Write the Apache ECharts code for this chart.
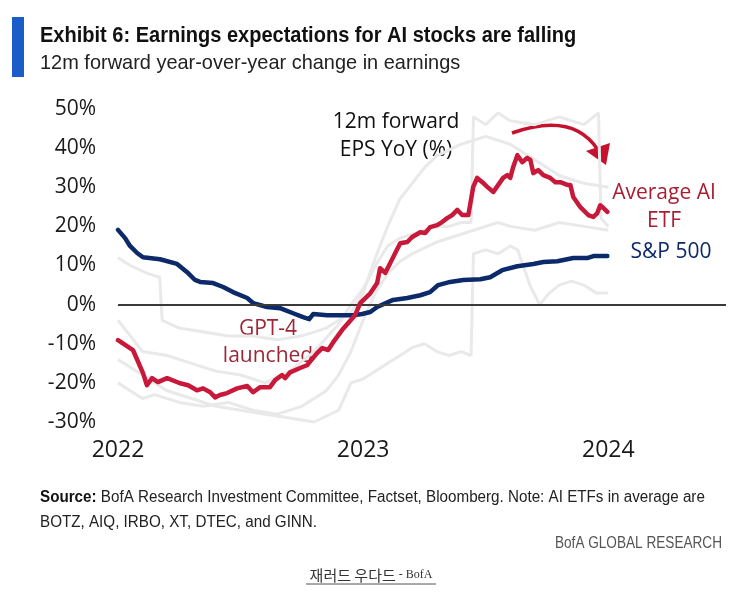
<!DOCTYPE html>
<html>
<head>
<meta charset="utf-8">
<script src="https://cdn.jsdelivr.net/npm/echarts@6/dist/echarts.min.js"></script>
<style>
html,body{margin:0;padding:0;background:#fff;}
#chart{width:744px;height:597px;}
</style>
</head>
<body>
<div id="chart"></div>
<script>
// ---- data (x = decimal year, y = % YoY) ----
const yearTicks = [2022, 2023, 2024];

const aiDates = [2022.000,2022.061,2022.102,2022.118,2022.139,2022.163,2022.200,2022.253,2022.286,2022.322,2022.347,2022.376,2022.396,2022.416,2022.445,2022.486,2022.527,2022.551,2022.580,2022.620,2022.641,2022.669,2022.682,2022.702,2022.743,2022.771,2022.812,2022.833,2022.857,2022.878,2022.914,2022.939,2022.967,2022.988,2023.029,2023.057,2023.069,2023.090,2023.110,2023.131,2023.151,2023.180,2023.200,2023.233,2023.253,2023.273,2023.302,2023.322,2023.343,2023.363,2023.384,2023.404,2023.429,2023.449,2023.465,2023.486,2023.506,2023.531,2023.551,2023.571,2023.588,2023.600,2023.612,2023.629,2023.649,2023.669,2023.682,2023.694,2023.714,2023.735,2023.763,2023.784,2023.804,2023.833,2023.845,2023.857,2023.886,2023.918,2023.939,2023.955,2023.967,2023.980,2023.996];
const aiValues = [-9.1,-11.6,-17.5,-20.6,-18.8,-19.8,-18.8,-20.1,-20.6,-21.9,-21.4,-22.4,-23.7,-23.1,-22.6,-21.4,-20.8,-22.4,-21.1,-21.1,-19.3,-18.0,-18.8,-17.3,-16.2,-15.5,-12.4,-11.1,-11.6,-9.6,-6.5,-4.7,-2.7,0.4,2.9,5.5,9.3,8.1,10.6,13.2,15.7,16.0,17.3,18.5,18.3,19.8,20.3,21.1,22.1,22.9,24.2,22.9,22.9,30.1,32.4,31.3,30.1,28.8,30.6,32.4,33.1,32.4,35.2,38.2,36.4,37.5,37.0,33.6,34.4,33.1,32.4,31.3,31.3,30.6,30.6,27.5,24.9,22.9,22.4,23.4,25.4,24.7,23.7];

const spxDates = [2022.000,2022.029,2022.049,2022.078,2022.102,2022.171,2022.241,2022.282,2022.314,2022.335,2022.388,2022.429,2022.469,2022.527,2022.551,2022.608,2022.661,2022.714,2022.755,2022.780,2022.796,2022.853,2022.906,2022.959,2022.996,2023.029,2023.057,2023.122,2023.180,2023.233,2023.273,2023.306,2023.355,2023.408,2023.478,2023.518,2023.567,2023.629,2023.694,2023.735,2023.792,2023.857,2023.914,2023.939,2023.996];
const spxValues = [19.1,17.0,15.0,13.2,12.1,11.6,10.4,8.3,6.3,5.8,5.5,4.5,3.2,1.7,0.4,-0.6,-0.9,-2.2,-3.2,-3.7,-2.4,-2.7,-2.7,-2.7,-2.4,-1.9,-0.6,1.2,1.7,2.4,3.2,5.0,5.8,6.3,6.5,7.0,8.8,9.8,10.4,10.9,11.1,11.9,11.9,12.4,12.4];

// individual AI ETFs (faded background lines)
const etf1Dates = [2022.00,2022.05,2022.10,2022.20,2022.30,2022.40,2022.50,2022.60,2022.70,2022.80,2022.90,2022.95,2023.00,2023.05,2023.10,2023.15,2023.20,2023.25,2023.30,2023.35,2023.40,2023.44,2023.45,2023.50,2023.55,2023.60,2023.70,2023.80,2023.90,2023.96,2023.97,2024.00];
const etf1Values = [-4,-8,-12,-13,-15,-17,-18,-20,-17,-12,-5,0,4,10,15,17,18,19,20,20,21,21,48,46,49,47,46,48,46,49,22,20];
const etf2Dates = [2022.00,2022.05,2022.12,2022.17,2022.18,2022.25,2022.35,2022.45,2022.55,2022.65,2022.75,2022.85,2022.95,2023.00,2023.05,2023.10,2023.15,2023.20,2023.25,2023.30,2023.40,2023.50,2023.60,2023.70,2023.80,2023.90,2024.00];
const etf2Values = [12,10,8,7,-4,-6,-7,-8,-8,-9,-8,-6,-2,3,12,20,27,31,35,38,41,43,41,37,33,31,30];
const etf3Dates = [2022.00,2022.10,2022.20,2022.30,2022.40,2022.50,2022.60,2022.70,2022.80,2022.90,2022.95,2023.00,2023.10,2023.20,2023.25,2023.30,2023.35,2023.40,2023.44,2023.45,2023.50,2023.55,2023.60,2023.63,2023.68,2023.72,2023.76,2023.80,2023.85,2023.90,2023.95,2024.00];
const etf3Values = [-14,-18,-22,-24,-26,-27,-28,-29,-30,-27,-20,-19,-15,-11,-10,-12,-13,-12,-13,13,14,13,15,14,5,0,3,5,6,5,3,3];
const etf4Dates = [2022.00,2022.05,2022.10,2022.15,2022.25,2022.35,2022.45,2022.55,2022.65,2022.75,2022.85,2022.90,2022.95,2023.00,2023.05,2023.10,2023.15,2023.20,2023.30,2023.40,2023.50,2023.55,2023.60,2023.70,2023.80,2023.90,2024.00];
const etf4Values = [-20,-22,-24,-23,-25,-26,-25,-27,-28,-26,-22,-18,-12,-4,3,8,11,13,16,18,20,21,20,19,21,20,19];

function zip(d, v) { return d.map((x, i) => [x, v[i]]); }

const chart = echarts.init(document.getElementById('chart'), null, {renderer: 'canvas'});
const sans = '"Liberation Sans",Arial,sans-serif';
const sansW = '"Open Sans","Liberation Sans",sans-serif';
const grey = '#e9e9e9';

function greySeries(d, v) {
  return {type: 'line', data: zip(d, v), showSymbol: false, symbol: 'none', z: 2,
    lineStyle: {color: grey, width: 3}, silent: true, animation: false};
}

chart.setOption({
  animation: false,
  backgroundColor: '#fff',
  grid: {left: 118, right: 18, top: 109, bottom: 175, containLabel: false},
  xAxis: {
    type: 'value', min: 2022, max: 2024.48, interval: 1,
    axisLine: {show: false}, axisTick: {show: false}, splitLine: {show: false},
    axisLabel: {color: '#1a1a1a', fontSize: 23, fontFamily: sansW, margin: 17,
      formatter: v => yearTicks.includes(v) ? String(v) : ''}
  },
  yAxis: {
    type: 'value', min: -30, max: 50, interval: 10,
    axisLine: {show: false}, axisTick: {show: false}, splitLine: {show: false},
    axisLabel: {color: '#1a1a1a', fontSize: 21, fontFamily: sansW, margin: 22, formatter: '{value}%'}
  },
  series: [
    {type: 'line', data: [], z: 1, silent: true,
      markLine: {silent: true, symbol: ['none', 'none'], label: {show: false},
        lineStyle: {color: '#3a3a3a', width: 2, type: 'solid'}, data: [{yAxis: 0}]}},
    greySeries(etf1Dates, etf1Values),
    greySeries(etf2Dates, etf2Values),
    greySeries(etf3Dates, etf3Values),
    greySeries(etf4Dates, etf4Values),
    {name: 'S&P 500', type: 'line', data: zip(spxDates, spxValues), showSymbol: false, symbol: 'none', z: 4,
      lineStyle: {color: '#0c2a6a', width: 4.5, cap: 'round', join: 'round'}},
    {name: 'Average AI ETF', type: 'line', data: zip(aiDates, aiValues), showSymbol: false, symbol: 'none', z: 5,
      lineStyle: {color: '#c8193a', width: 4.5, cap: 'round', join: 'round'}}
  ],
  graphic: [
    {type: 'rect', shape: {x: 12, y: 17, width: 12, height: 60}, style: {fill: '#1a5dc8'}},
    {type: 'text', x: 40, y: 25, scaleX: 0.91, style: {text: 'Exhibit 6: Earnings expectations for AI stocks are falling',
      font: 'bold 22px ' + sans, fill: '#111', align: 'left', verticalAlign: 'top'}},
    {type: 'text', x: 40, y: 53, scaleX: 0.95, style: {text: '12m forward year-over-year change in earnings',
      font: '21px ' + sans, fill: '#222', align: 'left', verticalAlign: 'top'}},
    {type: 'text', x: 396, y: 108, style: {text: '12m forward\nEPS YoY (%)', align: 'center',
      font: '21px ' + sansW, fill: '#111', lineHeight: 28}},
    {type: 'text', x: 664, y: 179, style: {text: 'Average AI\nETF', align: 'center',
      font: '21px ' + sansW, fill: '#a81e32', lineHeight: 28}},
    {type: 'text', x: 671, y: 242, style: {text: 'S&P 500', align: 'center',
      font: '21px ' + sansW, fill: '#0c2a6a'}},
    {type: 'text', x: 268, y: 316, style: {text: 'GPT-4\nlaunched', align: 'center',
      font: '21px ' + sansW, fill: '#9e2436', lineHeight: 27}},
    {type: 'bezierCurve', shape: {x1: 512, y1: 133, x2: 598, y2: 150, cpx1: 560, cpy1: 116, cpx2: 585, cpy2: 130},
      style: {stroke: '#c4122f', lineWidth: 3.5, fill: null}},
    {type: 'polygon', shape: {points: [[586, 151], [610, 143], [606, 165]]}, style: {fill: '#c4122f'}},
    {type: 'text', x: 40, y: 485, scaleX: 0.95, style: {
      rich: {b: {font: 'bold 16px ' + sans, fill: '#111'}, n: {font: '16px ' + sans, fill: '#222'}},
      text: '{b|Source:}{n| BofA Research Investment Committee, Factset, Bloomberg. Note: AI ETFs in average are}\n{n|BOTZ, AIQ, IRBO, XT, DTEC, and GINN.}',
      lineHeight: 25, align: 'left', verticalAlign: 'top'}},
    {type: 'text', x: 722, y: 535, scaleX: 0.8, style: {text: 'BofA GLOBAL RESEARCH', font: '17px ' + sans, fill: '#555',
      align: 'right', verticalAlign: 'top'}},
    {type: 'text', x: 371, y: 575, style: {
      rich: {k: {font: '15px "Noto Sans CJK KR", sans-serif', fill: '#333'}, s: {font: '12px "Liberation Serif", serif', fill: '#333'}},
      text: '{k|재러드 우다드}{s| - BofA}', align: 'center', verticalAlign: 'middle'}},
    {type: 'line', shape: {x1: 306, y1: 584, x2: 436, y2: 584}, style: {stroke: '#555', lineWidth: 1}}
  ]
});
</script>
</body>
</html>
